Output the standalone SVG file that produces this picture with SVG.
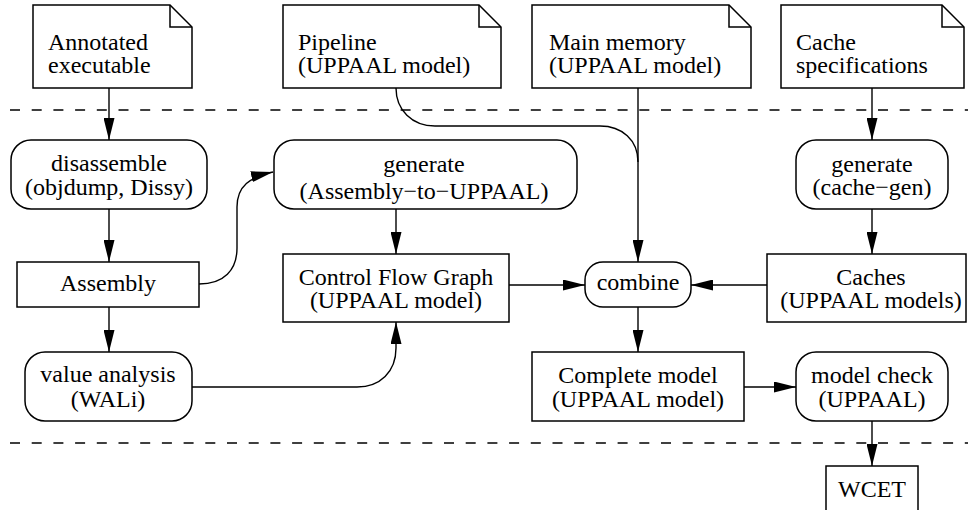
<svg xmlns="http://www.w3.org/2000/svg" width="968" height="510" viewBox="0 0 968 510">
<defs>
<marker id="ah" markerUnits="userSpaceOnUse" markerWidth="22" markerHeight="11" refX="22" refY="5.5" orient="auto">
<path d="M0,0 L22,5.5 L0,11 Z" fill="#000"/>
</marker>
<style>
.box{fill:#fff;stroke:#000;stroke-width:1.5}
.fold{fill:none;stroke:#000;stroke-width:1.5}
.t{font-family:"Liberation Serif","Times New Roman",serif;font-size:24px;fill:#000}
.c{text-anchor:middle}
.e{fill:none;stroke:#000;stroke-width:1.4;marker-end:url(#ah)}
.ln{fill:none;stroke:#000;stroke-width:1.4}
.dash{stroke:#000;stroke-width:1.4;stroke-dasharray:10 11.7}
</style>
</defs>
<rect width="968" height="510" fill="#fff"/>
<line class="dash" x1="10" y1="110" x2="968" y2="110"/>
<line class="dash" x1="10" y1="443" x2="968" y2="443"/>

<g id="connectors">
<path class="e" d="M109,88 V140"/>
<path class="e" d="M109,209 V262"/>
<path class="e" d="M109,307 V352"/>
<path class="e" d="M199,284 C224,284 237,270 237,248 V207 C237,186 250,177 273,172"/>
<path class="e" d="M396,209 V254"/>
<path class="e" d="M192,387 H357 C380,387 396,372 396,348 V322"/>
<path class="e" d="M509,285 H585"/>
<path class="e" d="M767,285 H691"/>
<path class="e" d="M638,88 V262"/>
<path class="ln" d="M396,88 C396,110 412,126 435,126 H600 C622,126 638,140 638,162"/>
<path class="e" d="M872,88 V140"/>
<path class="e" d="M872,209 V254"/>
<path class="e" d="M638,307 V352"/>
<path class="e" d="M744,387 H796"/>
<path class="e" d="M872,421 V466"/>
</g>

<g id="doc-annotated">
<path class="box" d="M33,5 H170 L192,27 V88 H33 Z"/>
<path class="fold" d="M170,5 V27 H192"/>
<text class="t" x="48" y="50">Annotated</text>
<text class="t" x="48" y="73">executable</text>
</g>
<g id="doc-pipeline">
<path class="box" d="M283,5 H479 L501,27 V88 H283 Z"/>
<path class="fold" d="M479,5 V27 H501"/>
<text class="t" x="298" y="50">Pipeline</text>
<text class="t" x="298" y="73">(UPPAAL model)</text>
</g>
<g id="doc-memory">
<path class="box" d="M532,5 H729 L751,27 V88 H532 Z"/>
<path class="fold" d="M729,5 V27 H751"/>
<text class="t" x="549" y="50">Main memory</text>
<text class="t" x="549" y="73">(UPPAAL model)</text>
</g>
<g id="doc-cachespec">
<path class="box" d="M781,5 H942 L964,27 V88 H781 Z"/>
<path class="fold" d="M942,5 V27 H964"/>
<text class="t" x="796" y="50">Cache</text>
<text class="t" x="796" y="73">specifications</text>
</g>

<g id="disassemble">
<rect class="box" x="11" y="140" width="196" height="69" rx="20"/>
<text class="t c" x="109" y="171">disassemble</text>
<text class="t c" x="109" y="195">(objdump, Dissy)</text>
</g>
<g id="generate-asm">
<rect class="box" x="274" y="140" width="303" height="69" rx="20"/>
<text class="t c" x="424" y="172">generate</text>
<text class="t c" x="424" y="199">(Assembly−to−UPPAAL)</text>
</g>
<g id="generate-cache">
<rect class="box" x="796" y="140" width="152" height="69" rx="20"/>
<text class="t c" x="872" y="172">generate</text>
<text class="t c" x="872" y="195">(cache−gen)</text>
</g>
<g id="assembly">
<rect class="box" x="17" y="262" width="182" height="45"/>
<text class="t c" x="108" y="291">Assembly</text>
</g>
<g id="cfg">
<rect class="box" x="283" y="254" width="226" height="68"/>
<text class="t c" x="396" y="285">Control Flow Graph</text>
<text class="t c" x="396" y="308">(UPPAAL model)</text>
</g>
<g id="combine">
<rect class="box" x="585" y="262" width="106" height="45" rx="18"/>
<text class="t c" x="638" y="290">combine</text>
</g>
<g id="caches">
<rect class="box" x="767" y="254" width="199" height="68"/>
<text class="t c" x="871" y="285">Caches</text>
<text class="t c" x="871" y="308">(UPPAAL models)</text>
</g>
<g id="value-analysis">
<rect class="box" x="25" y="352" width="167" height="69" rx="20"/>
<text class="t c" x="108" y="382">value analysis</text>
<text class="t c" x="108" y="407">(WALi)</text>
</g>
<g id="complete-model">
<rect class="box" x="532" y="352" width="212" height="69"/>
<text class="t c" x="638" y="383">Complete model</text>
<text class="t c" x="638" y="407">(UPPAAL model)</text>
</g>
<g id="model-check">
<rect class="box" x="796" y="352" width="152" height="69" rx="20"/>
<text class="t c" x="872" y="383">model check</text>
<text class="t c" x="872" y="407">(UPPAAL)</text>
</g>
<g id="wcet">
<rect class="box" x="826" y="466" width="92" height="52"/>
<text class="t c" x="872" y="497">WCET</text>
</g>
</svg>
